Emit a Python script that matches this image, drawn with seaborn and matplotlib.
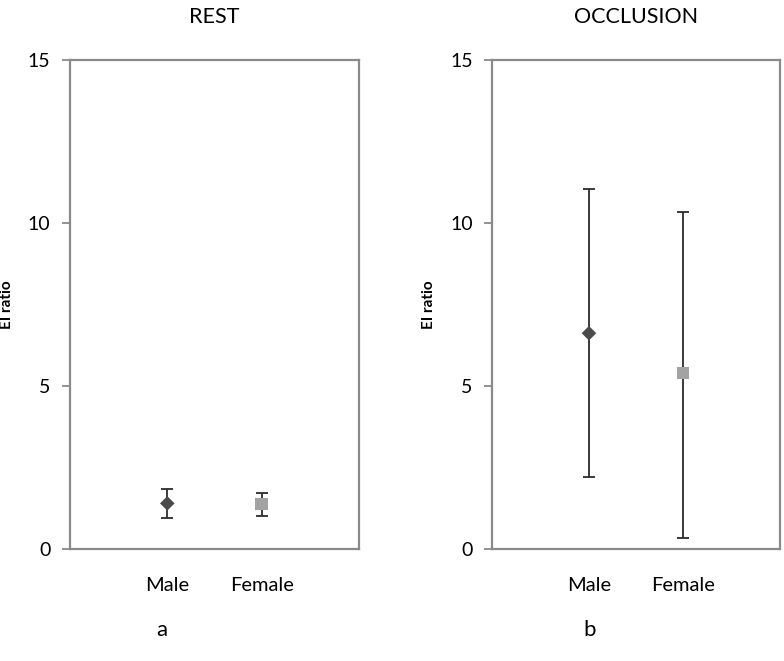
import numpy as np
import pandas as pd
import seaborn as sns
import matplotlib.pyplot as plt

# --- Data ---
groups = ["Male", "Female"]
panels = ["REST", "OCCLUSION"]
panel_tags = ["a", "b"]

rest_mean = [1.40, 1.38]
rest_low = [0.95, 1.00]
rest_high = [1.85, 1.72]

occl_mean = [6.62, 5.40]
occl_low = [2.20, 0.34]
occl_high = [11.04, 10.35]

y_ticks = [0, 5, 10, 15]

sns.set_theme(style="white")
plt.rcParams['font.family'] = ['Lato', 'DejaVu Sans']
plt.rcParams['text.color'] = 'black'
plt.rcParams['xtick.color'] = 'black'
plt.rcParams['ytick.color'] = 'black'
plt.rcParams['axes.labelcolor'] = 'black'

fig = plt.figure(figsize=(7.84, 6.61), dpi=100)
ax_rest = fig.add_axes([0.0893, 0.1694, 0.3686, 0.7398])
ax_occl = fig.add_axes([0.6276, 0.1694, 0.3673, 0.7398])

marker_map = {"Male": "D", "Female": "s"}
color_map = {"Male": "#4b4b4b", "Female": "#a3a3a3"}
size_map = {"Male": 55, "Female": 85}

panel_data = [
    (ax_rest, rest_mean, rest_low, rest_high),
    (ax_occl, occl_mean, occl_low, occl_high),
]

for i, (ax, mean, low, high) in enumerate(panel_data):
    df = pd.DataFrame({"group": groups, "value": mean})
    mean = np.array(mean)
    yerr = [mean - np.array(low), np.array(high) - mean]

    # whiskers first so markers sit on top
    ax.errorbar(np.arange(len(groups)), mean, yerr=yerr, fmt="none",
                ecolor="#2b2b2b", elinewidth=1.3, capsize=4, capthick=1.3, zorder=2)
    for g in groups:
        sub = df[df["group"] == g]
        sns.scatterplot(data=sub, x="group", y="value", ax=ax,
                        marker=marker_map[g], color=color_map[g],
                        s=size_map[g], edgecolor="none", zorder=3, legend=False)

    ax.set_xlim(-1.03, 2.03)
    ax.set_ylim(0, 15)
    ax.set_yticks(y_ticks)
    ax.set_xticks(range(len(groups)))
    ax.set_xticklabels(groups, fontsize=14.5)
    ax.tick_params(axis="x", length=0, pad=20)
    ax.tick_params(axis="y", length=6, width=1.3, color="#8a8a8a", direction="out",
                   labelsize=14, pad=8, left=True, labelcolor="black")
    ax.set_xlabel("")
    ax.set_ylabel("EI ratio", fontsize=11, fontweight="bold")
    ax.yaxis.set_label_coords(-0.195, 0.5)
    for sp in ax.spines.values():
        sp.set_color("#8a8a8a")
        sp.set_linewidth(1.6)
    ax.set_title(panels[i], fontsize=15.5, pad=27)

fig.text(0.206, 0.047, panel_tags[0], fontsize=16, ha="center", va="center")
fig.text(0.752, 0.047, panel_tags[1], fontsize=16, ha="center", va="center")

plt.savefig("out.png", dpi=100)
plt.close()
